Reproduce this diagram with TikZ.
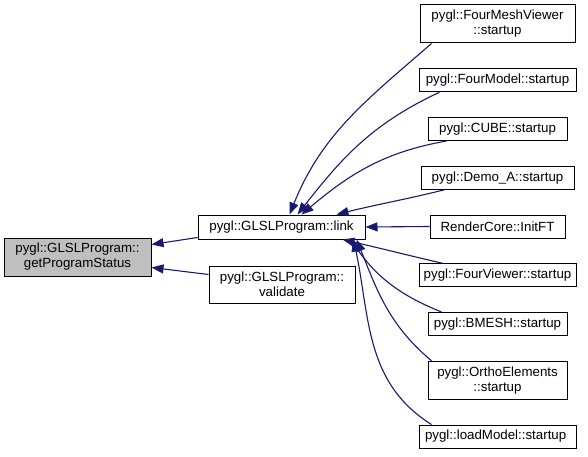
\documentclass[tikz,border=0pt]{standalone}
\usepackage{fontspec}
\setmainfont{Liberation Sans}
\usepackage{tikz}
\usetikzlibrary{arrows.meta, positioning, calc}

\definecolor{edgeblue}{HTML}{191970}
\definecolor{focusgray}{HTML}{BFBFBF}

\tikzset{
    fn/.style={draw=black, line width=1pt, fill=white, align=center, inner sep=0pt,
        minimum height=23pt, font=\fontsize{13.3}{15}\selectfont},
    fnfocus/.style={fn, fill=focusgray},
    caller/.style={draw=edgeblue, line width=1.1pt, -{Triangle[length=12pt,width=9pt]}}
}

\begin{document}
\begin{tikzpicture}[x=1pt, y=1pt]
\useasboundingbox (0,0) rectangle (588,-457);

% Function of interest and the two functions calling it
\node[fnfocus, minimum width=147pt, minimum height=38pt] (status) at (77.5,-257) {pygl::GLSLProgram::\\getProgramStatus};
\node[fn, minimum width=167pt, minimum height=24pt] (link) at (281.5,-227) {pygl::GLSLProgram::link};
\node[fn, minimum width=146pt, minimum height=37pt] (validate) at (282,-284.5) {pygl::GLSLProgram::\\validate};

% Callers of link (name / y of centre / width / height / text)
\foreach \name/\y/\w/\h/\txt in {
    fmv/24/155pt/38pt/{pygl::FourMeshViewer\\::startup},
    fmodel/80.25/157pt/23pt/{pygl::FourModel::startup},
    cube/129/139pt/23pt/{pygl::CUBE::startup},
    demo/177.75/153pt/23pt/{pygl::Demo\_A::startup},
    rcore/226.5/135pt/23pt/{RenderCore::InitFT},
    fviewer/275.25/157pt/23pt/{pygl::FourViewer::startup},
    bmesh/324/139pt/23pt/{pygl::BMESH::startup},
    ortho/380.25/139pt/38pt/{pygl::OrthoElements\\::startup},
    loadm/436.5/157pt/23pt/{pygl::loadModel::startup}
} {
    \node[fn, minimum width=\w, minimum height=\h] (\name) at (497.5,-\y) {\txt};
}

% Calls into getProgramStatus
\draw[caller] ([yshift=2pt]link.south west) -- ([yshift=-7pt]status.north east);
\draw[caller] ([yshift=-9pt]validate.north west) -- ([yshift=9pt]status.south east);

% Calls into link, upper group
\draw[caller] ([xshift=12pt]fmv.south west) to[out=221, in=68] ([xshift=92pt]link.north west);
\draw[caller] ([xshift=21pt]fmodel.south west) to[out=205, in=52] ([xshift=100pt]link.north west);
\draw[caller] ([xshift=19pt]cube.south west) to[out=190, in=40] ([xshift=104pt]link.north west);
\draw[caller] ([xshift=24pt]demo.south west) to[out=194, in=14] ([xshift=139pt]link.north west);
\draw[caller] (rcore.west) -- (link.east);

% Calls into link, lower group
\draw[caller] ([xshift=24pt]fviewer.north west) to[out=167, in=-13] ([xshift=145pt]link.south west);
\draw[caller] ([xshift=14pt]bmesh.north west) to[out=158, in=-55] ([xshift=153pt]link.south west);
\draw[caller] ([xshift=4pt]ortho.north west) to[out=140, in=-68] ([xshift=159pt]link.south west);
\draw[caller] ([xshift=13pt]loadm.north west) to[out=148, in=-78] ([xshift=156pt]link.south west);

\end{tikzpicture}
\end{document}
